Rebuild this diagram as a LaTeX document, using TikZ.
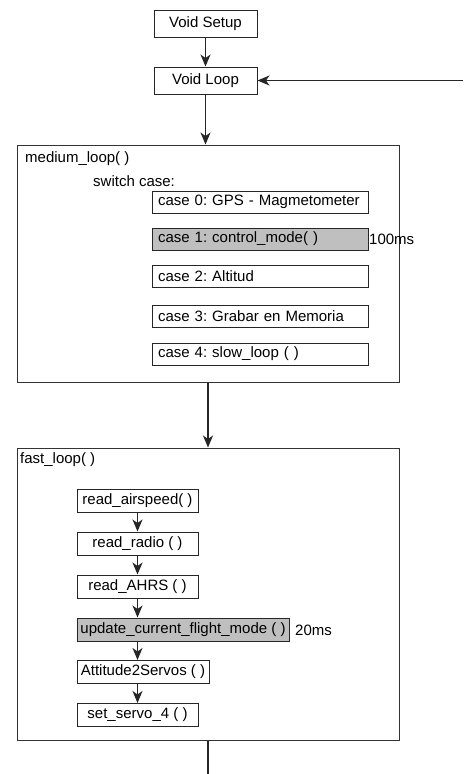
\documentclass[tikz,border=0pt]{standalone}
\usepackage{fontspec}
\setmainfont{Liberation Sans}
\usetikzlibrary{arrows.meta}
\frenchspacing
\begin{document}
\begin{tikzpicture}[x=1pt,y=-1pt,
  every node/.style={font=\fontsize{15}{17}\selectfont},
  box/.style={draw=black!85, line width=1pt, rectangle, inner sep=0pt, fill=white},
  casebox/.style={box, minimum height=22pt, text width=204pt, inner xsep=6pt, align=left, minimum width=216pt},
  fbox/.style={box, minimum height=23pt, align=center},
  hl/.style={fill=black!25},
  frame/.style={draw=black!80, line width=1pt, rectangle, inner sep=0pt},
  conn/.style={draw=black!85, line width=1.3pt},
  arr/.style={conn, -{Stealth[length=12pt,width=10pt,inset=3.5pt]}},
  lbl/.style={inner sep=0pt, anchor=west}
]
\useasboundingbox[fill=white] (0,0) rectangle (465,774);
% top
\node[fbox, minimum width=103pt, minimum height=27pt] (vs) at (205.5,23.5) {Void Setup};
\node[fbox, minimum width=103pt, minimum height=27pt] (vl) at (205.5,80.5) {Void Loop};
\coordinate (rin) at (463,80.5);
% medium loop frame
\node[frame, minimum width=382pt, minimum height=237pt] (med) at (208,263.5) {};
\node[lbl] (mt) at (25,159) {medium\_loop( )};
\node[lbl] (sc) at (93,181) {switch case:};
\node[casebox] (c0) at (260,202) {case 0: GPS - Magmetometer};
\node[casebox, hl] (c1) at (260,239) {case 1: control\_mode( )};
\node[lbl] (t100) at (369,239) {100ms};
\node[casebox] (c2) at (260,276) {case 2: Altitud};
\node[casebox] (c3) at (260,316) {case 3: Grabar en Memoria};
\node[casebox] (c4) at (260,354) {case 4: slow\_loop ( )};
% fast loop frame
\node[frame, minimum width=382pt, minimum height=292pt] (fast) at (208,594) {};
\node[lbl] (ft) at (20,460) {fast\_loop( )};
\node[fbox, minimum width=121pt] (ra) at (137.5,500.5) {read\_airspeed( )};
\node[fbox, minimum width=121pt] (rr) at (137.5,543.5) {read\_radio ( )};
\node[fbox, minimum width=121pt] (rh) at (137.5,586.5) {read\_AHRS ( )};
\node[fbox, hl, minimum width=212pt] (uf) at (183,629.5) {update\_current\_flight\_mode ( )};
\node[lbl] (t20) at (295,630) {20ms};
\node[fbox, minimum width=132pt] (as) at (143,672) {Attitude2Servos ( )};
\node[fbox, minimum width=121pt] (ss) at (137.5,715) {set\_servo\_4 ( )};
\coordinate (bot) at (208,774);
% connectors
\draw[arr] (vs) -- (vl);
\draw[arr] (rin) -- (vl.east);
\draw[arr] (vl.south) -- (vl.south |- med.north);
\draw[arr] (med.south) -- (fast.north);
\draw[arr] (ra) -- (rr);
\draw[arr] (rr) -- (rh);
\draw[arr] (rh.south) -- (rh.south |- uf.north);
\draw[arr] (rh.south |- uf.south) -- (rh.south |- as.north);
\draw[arr] (rh.south |- as.south) -- (ss.north);
\draw[conn] (fast.south) -- (bot);
\end{tikzpicture}
\end{document}
